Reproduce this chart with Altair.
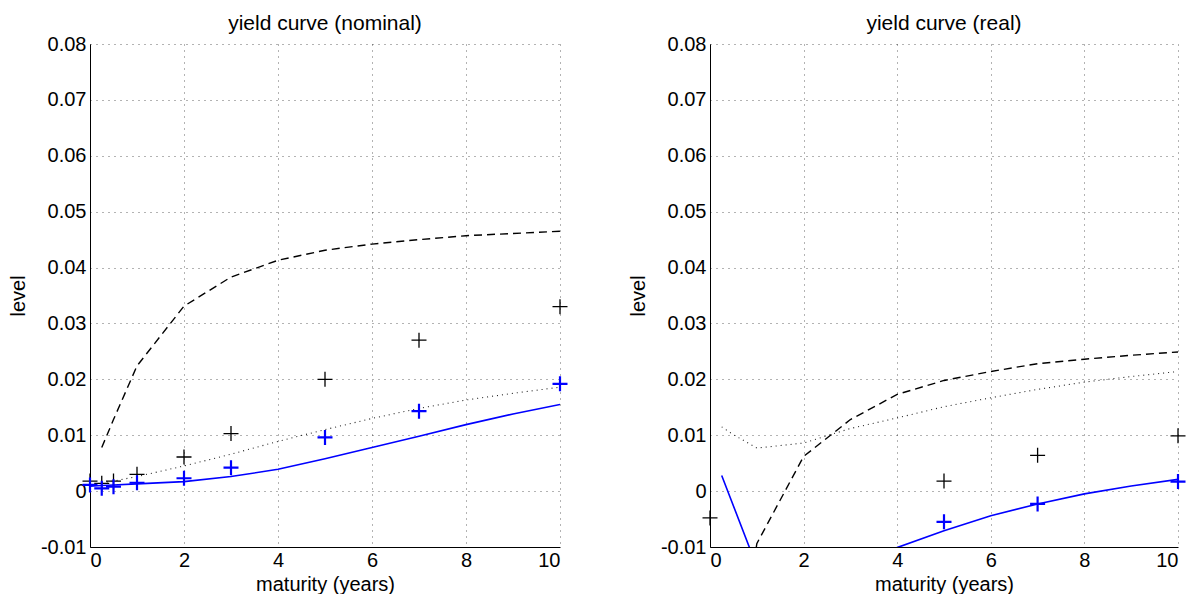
import altair as alt
import pandas as pd

# ---------------- nominal panel ----------------
nom_model_x = [0.25, 0.5, 1, 2, 3, 4, 5, 6, 7, 8, 9, 10]
nom_model_y = [0.0078, 0.0128, 0.0224, 0.0331, 0.0383, 0.0413, 0.0431, 0.0442, 0.0450, 0.0457, 0.0461, 0.0465]
nom_dot_x = [0.25, 0.5, 1, 2, 3, 4, 5, 6, 7, 8, 9, 10]
nom_dot_y = [0.0015, 0.0018, 0.0026, 0.0045, 0.0066, 0.0089, 0.0110, 0.0130, 0.0148, 0.0163, 0.0175, 0.0186]
nom_fit_x = [0, 0.25, 0.5, 1, 2, 3, 4, 5, 6, 7, 8, 9, 10]
nom_fit_y = [0.0009, 0.0010, 0.0011, 0.0013, 0.0017, 0.0026, 0.0039, 0.0058, 0.0078, 0.0098, 0.0119, 0.0138, 0.0155]
nom_obs_x = [0, 0.25, 0.5, 1, 2, 3, 5, 7, 10]
nom_obs_black = [0.0018, 0.0014, 0.0018, 0.0030, 0.0061, 0.0103, 0.0200, 0.0270, 0.0330]
nom_obs_blue = [0.0011, 0.0005, 0.0008, 0.0015, 0.0023, 0.0042, 0.0096, 0.0143, 0.0192]

# ---------------- real panel ----------------
real_model_x = [0.5, 1, 2, 3, 4, 5, 6, 7, 8, 9, 10]
real_model_y = [-0.04, -0.0094, 0.0062, 0.0128, 0.0173, 0.0198, 0.0214, 0.0228, 0.0236, 0.0243, 0.0249]
real_dot_x = [0.25, 0.5, 1, 2, 3, 4, 5, 6, 7, 8, 9, 10]
real_dot_y = [0.0115, 0.0101, 0.0077, 0.0086, 0.0112, 0.0131, 0.0151, 0.0167, 0.0182, 0.0195, 0.0205, 0.0214]
real_fit_x = [0.25, 1, 2, 3, 4, 5, 6, 7, 8, 9, 10]
real_fit_y = [0.0028, -0.0135, -0.0200, -0.0160, -0.0101, -0.0071, -0.0044, -0.0023, -0.0005, 0.0009, 0.0021]
real_obs_black_x = [0, 5, 7, 10]
real_obs_black = [-0.0048, 0.0018, 0.0064, 0.0099]
real_obs_blue_x = [5, 7, 10]
real_obs_blue = [-0.0055, -0.0023, 0.0017]

x_ticks = [0, 2, 4, 6, 8, 10]
y_ticks = [-0.01, 0, 0.01, 0.02, 0.03, 0.04, 0.05, 0.06, 0.07, 0.08]

FONT = "Liberation Sans"
PLUS = "M-1,0L1,0M0,-1L0,1"


def df(xs, ys):
    return pd.DataFrame({"m": xs, "v": ys})


X = alt.X("m:Q",
          scale=alt.Scale(domain=[0, 10], nice=False, zero=False),
          axis=alt.Axis(values=x_ticks, format="d", title="maturity (years)"))
Y = alt.Y("v:Q",
          scale=alt.Scale(domain=[-0.01, 0.08], nice=False, zero=False),
          axis=alt.Axis(values=y_ticks, title="level",
                        labelExpr="datum.value == 0 ? '0' : (datum.value < 0 ? '-' + format(-datum.value, '.2f') : format(datum.value, '.2f'))"))


def panel(title, width, model, dot, fit, black, blue):
    layers = [
        alt.Chart(df(*model)).mark_line(
            color="black", strokeWidth=1.4, strokeDash=[8, 5], clip=True).encode(x=X, y=Y),
        alt.Chart(df(*dot)).mark_line(
            color="#222222", strokeWidth=1.1, strokeDash=[1, 4], clip=True).encode(x=X, y=Y),
        alt.Chart(df(*fit)).mark_line(
            color="#0000ff", strokeWidth=1.6, clip=True).encode(x=X, y=Y),
        alt.Chart(df(*black)).mark_point(
            shape=PLUS, size=225, filled=False, strokeWidth=1.3, color="black", opacity=1
        ).encode(x=X, y=Y),
        alt.Chart(df(*blue)).mark_point(
            shape=PLUS, size=225, filled=False, strokeWidth=2.2, color="#0000ff", opacity=1
        ).encode(x=X, y=Y),
    ]
    return alt.layer(*layers).properties(
        width=width, height=503,
        title=alt.TitleParams(title, fontSize=21, fontWeight="normal", font=FONT, offset=0,
                              anchor="middle", color="black"))


left = panel("yield curve (nominal)", 470,
             (nom_model_x, nom_model_y), (nom_dot_x, nom_dot_y), (nom_fit_x, nom_fit_y),
             (nom_obs_x, nom_obs_black), (nom_obs_x, nom_obs_blue))
right = panel("yield curve (real)", 468,
              (real_model_x, real_model_y), (real_dot_x, real_dot_y), (real_fit_x, real_fit_y),
              (real_obs_black_x, real_obs_black), (real_obs_blue_x, real_obs_blue))

chart = alt.hconcat(left, right, spacing=150, bounds="flush").properties(
    padding={"left": 0, "top": 5, "right": 0, "bottom": 0},
).configure_view(stroke=None).configure_axis(
    labelFont=FONT, labelFontSize=20, labelColor="black",
    titleFont=FONT, titleFontSize=20, titleFontWeight="normal", titleColor="black",
    domainColor="black", domainWidth=1,
    ticks=False, labelPadding=4,
    grid=True, gridColor="#000000", gridOpacity=0.6, gridDash=[1, 5], gridWidth=1,
).configure_axisY(titlePadding=12).configure_axisX(titlePadding=4, labelPadding=3)

chart.save("out.html", embed_options={"renderer": "svg", "actions": False})
